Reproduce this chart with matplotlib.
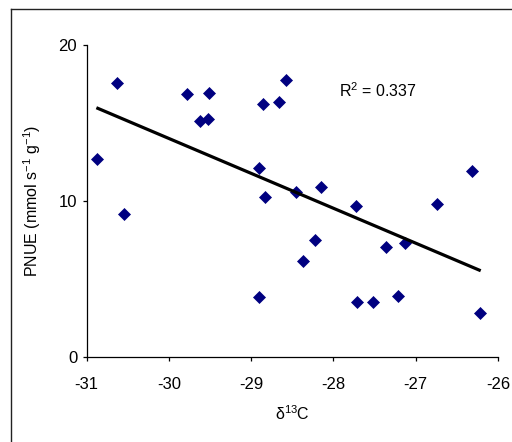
import numpy as np
import matplotlib
matplotlib.use("Agg")
import matplotlib.pyplot as plt
from matplotlib.lines import Line2D

plt.rcParams['font.family'] = ['Liberation Sans', 'DejaVu Sans']
plt.rcParams['mathtext.fontset'] = 'custom'
plt.rcParams['mathtext.rm'] = 'Liberation Sans'
plt.rcParams['mathtext.it'] = 'Liberation Sans'
plt.rcParams['mathtext.default'] = 'regular'
plt.rcParams['axes.unicode_minus'] = False

d13c = [-30.87, -30.63, -30.55, -29.78, -29.62, -29.52, -29.51, -28.90, -28.90,
        -28.85, -28.83, -28.66, -28.58, -28.45, -28.37, -28.22, -28.15, -27.73,
        -27.71, -27.52, -27.36, -27.21, -27.13, -26.74, -26.32, -26.22]
pnue = [12.71, 17.56, 9.19, 16.84, 15.13, 15.24, 16.94, 12.10, 3.85,
        16.24, 10.28, 16.35, 17.76, 10.58, 6.15, 7.48, 10.90, 9.68,
        3.53, 3.53, 7.07, 3.93, 7.33, 9.79, 11.90, 2.82]
trend_x = [-30.88, -26.21]
trend_y = [15.98, 5.53]
r2_text = "R$^2$ = 0.337"
xticks = [-31, -30, -29, -28, -27, -26]
yticks = [0, 10, 20]

fig = plt.figure(figsize=(5.12, 4.42), dpi=100)
ax = fig.add_axes([86.5/512, 1-357/442, (498-86.5)/512, (357-45)/442])

ax.plot(d13c, pnue, linestyle='none', marker='D', ms=6.3, color='#000080',
        markeredgecolor='#000080', markeredgewidth=0.5)
ax.plot(trend_x, trend_y, color='black', lw=2.3, solid_capstyle='butt')

ax.set_xlim(-31, -26)
ax.set_ylim(0, 20)
ax.set_xticks(xticks)
ax.set_yticks(yticks)
ax.spines['top'].set_visible(False)
ax.spines['right'].set_visible(False)
for s in ['left', 'bottom']:
    ax.spines[s].set_linewidth(0.9)
ax.tick_params(axis='x', direction='out', length=3.2, width=0.9, pad=11, labelsize=12)
ax.tick_params(axis='y', direction='out', length=3.2, width=0.9, pad=3.5, labelsize=12)

ax.set_xlabel("δ$^{13}$C", fontsize=11.5, labelpad=9)
ax.set_ylabel("PNUE (mmol s$^{-1}$ g$^{-1}$)", fontsize=11.5, labelpad=11)

ax.text(-27.93, 17.05, r2_text, fontsize=11.5, ha='left', va='center')

fig.add_artist(Line2D([10.5/512, 10.5/512], [0, 1-9/442], transform=fig.transFigure,
                      color='#222222', lw=1.0))
fig.add_artist(Line2D([10.5/512, 1], [1-9/442, 1-9/442], transform=fig.transFigure,
                      color='#222222', lw=1.0))

fig.savefig("out.png", dpi=100)
